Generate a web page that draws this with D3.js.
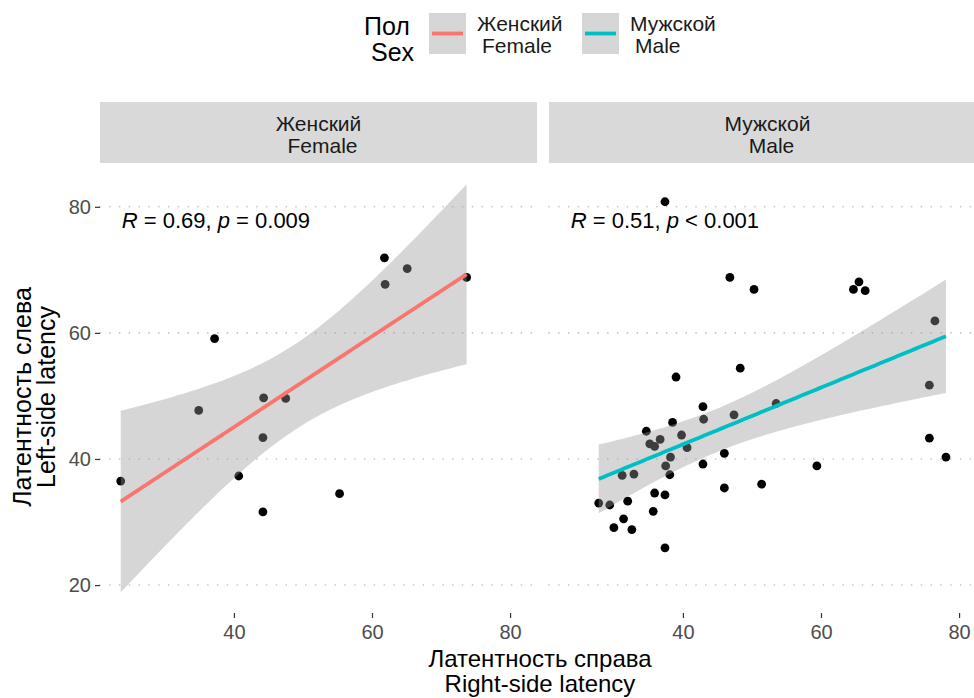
<!DOCTYPE html>
<html>
<head>
<meta charset="utf-8">
<script src="https://cdn.jsdelivr.net/npm/d3@7"></script>
<style>
  body { margin: 0; background: #fff; }
  svg { font-family: "Liberation Sans", Arial, Helvetica, sans-serif; display: block; }
</style>
</head>
<body>
<svg id="chart" width="974" height="698"></svg>
<script>
// values: right-side latency (x) vs left-side latency (y)
const sexRu = ["Женский", "Мужской"];
const sexEn = ["Female", "Male"];
const sexColors = ["#F8766D", "#00BFC4"];

const femaleX = [23.6, 34.9, 37.2, 44.3, 47.5, 44.2, 40.7, 44.2, 55.3, 61.8, 61.9, 65.1, 73.7];
const femaleY = [36.5, 47.7, 59.1, 49.7, 49.6, 43.4, 37.3, 31.6, 34.5, 71.9, 67.7, 70.2, 68.8];

const maleX = [37.4, 46.8, 50.3, 64.7, 65.5, 66.4, 76.5, 75.7, 75.7, 78.1, 59.4, 53.5, 48.3, 39.0,
  42.9, 43.0, 47.4, 38.5, 34.7, 39.8, 36.7, 35.2, 35.9, 40.6, 46.0, 38.2, 37.5, 42.9, 38.1, 32.9,
  31.2, 51.4, 46.0, 35.9, 37.4, 32.0, 27.8, 29.4, 35.7, 31.4, 30.0, 32.6, 37.4];
const maleY = [80.8, 68.8, 66.9, 66.9, 68.1, 66.7, 61.9, 51.7, 43.3, 40.3, 38.9, 48.8, 54.4, 53.0,
  48.3, 46.3, 47.0, 45.8, 44.4, 43.8, 43.1, 42.4, 42.0, 41.8, 40.9, 40.3, 38.9, 39.2, 37.5, 37.6,
  37.4, 36.0, 35.4, 34.6, 34.3, 33.3, 33.0, 32.7, 31.7, 30.5, 29.1, 28.8, 25.9];

const corR = ["0.69", "0.51"];
const corP = ["= 0.009", "< 0.001"];

const xTicks = [40, 60, 80];
const yTicks = [20, 40, 60, 80];

const panels = [
  { xs: femaleX, ys: femaleY },
  { xs: maleX, ys: maleY }
];

const svg = d3.select("#chart");

const panelW = 437;
const panelX = [100, 549];
const x = d3.scaleLinear().domain([20.6, 83.9]).range([0, panelW]);
const y = d3.scaleLinear().domain([15.57, 86.63]).range([613, 165]);

// t quantile (97.5%) via Cornish-Fisher expansion
function tq(df) {
  const z = 1.959964;
  return z + (z ** 3 + z) / (4 * df)
    + (5 * z ** 5 + 16 * z ** 3 + 3 * z) / (96 * df * df)
    + (3 * z ** 7 + 19 * z ** 5 + 17 * z ** 3 - 15 * z) / (384 * df ** 3);
}

// linear fit with 95% confidence band
function lmBand(xs, ys) {
  const n = xs.length;
  const mx = d3.mean(xs), my = d3.mean(ys);
  const sxx = d3.sum(xs, (v) => (v - mx) ** 2);
  const sxy = d3.sum(xs, (v, i) => (v - mx) * (ys[i] - my));
  const b = sxy / sxx, a = my - b * mx;
  const s2 = d3.sum(xs, (v, i) => (ys[i] - a - b * v) ** 2) / (n - 2);
  const t = tq(n - 2);
  const [x0, x1] = d3.extent(xs);
  return d3.range(80).map((i) => {
    const xv = x0 + (x1 - x0) * i / 79;
    const fit = a + b * xv;
    const se = Math.sqrt(s2 * (1 / n + (xv - mx) ** 2 / sxx));
    return { x: xv, fit, lo: fit - t * se, hi: fit + t * se };
  });
}

const xMinAll = d3.min([...femaleX, ...maleX]);

panels.forEach((p, k) => {
  const g = svg.append("g").attr("transform", `translate(${panelX[k]},0)`);

  // strip
  g.append("rect")
    .attr("x", 0).attr("y", 102)
    .attr("width", panelW).attr("height", 61)
    .attr("fill", "#d9d9d9");
  g.append("text")
    .attr("x", panelW / 2).attr("y", 131)
    .attr("text-anchor", "middle")
    .attr("font-size", 21).attr("fill", "#1a1a1a")
    .text(sexRu[k]);
  g.append("text")
    .attr("x", panelW / 2 + 4).attr("y", 153)
    .attr("text-anchor", "middle")
    .attr("font-size", 21).attr("fill", "#1a1a1a")
    .text(sexEn[k]);

  // dotted horizontal grid
  g.append("g")
    .selectAll("line")
    .data(yTicks)
    .join("line")
    .attr("x1", 0).attr("x2", panelW)
    .attr("y1", (d) => y(d)).attr("y2", (d) => y(d))
    .attr("stroke", "#bdbdbd")
    .attr("stroke-width", 1.6)
    .attr("stroke-linecap", "round")
    .attr("stroke-dasharray", "0.1 9.7");

  // points
  g.append("g")
    .selectAll("circle")
    .data(p.xs.map((v, i) => [v, p.ys[i]]))
    .join("circle")
    .attr("cx", (d) => x(d[0]))
    .attr("cy", (d) => y(d[1]))
    .attr("r", 4.4)
    .attr("fill", "#000");

  // smooth: ribbon + line
  const band = lmBand(p.xs, p.ys);
  g.append("path")
    .datum(band)
    .attr("fill", "#999999")
    .attr("fill-opacity", 0.4)
    .attr("d", d3.area().x((d) => x(d.x)).y0((d) => y(d.lo)).y1((d) => y(d.hi)));
  g.append("path")
    .datum(band)
    .attr("fill", "none")
    .attr("stroke", sexColors[k])
    .attr("stroke-width", 3.8)
    .attr("d", d3.line().x((d) => x(d.x)).y((d) => y(d.fit)));

  // correlation label
  const lab = g.append("text")
    .attr("x", x(xMinAll) + 1).attr("y", 228)
    .attr("font-size", 22).attr("fill", "#000")
    .attr("xml:space", "preserve");
  lab.append("tspan").attr("font-style", "italic").text("R");
  lab.append("tspan").text(` = ${corR[k]}, `);
  lab.append("tspan").attr("font-style", "italic").text("p");
  lab.append("tspan").text(` ${corP[k]}`);

  // x axis
  const xa = g.append("g")
    .attr("transform", "translate(0,613)")
    .call(d3.axisBottom(x).tickValues(xTicks).tickSize(5).tickPadding(7));
  xa.select(".domain").remove();
  xa.selectAll(".tick line").attr("stroke", "#333").attr("stroke-width", 1.2);
  xa.selectAll(".tick text")
    .attr("fill", "#4d4d4d").attr("font-size", 20)
    .attr("font-family", "Liberation Sans, Arial, sans-serif");
});

// y axis (left panel only)
const ya = svg.append("g")
  .attr("transform", "translate(100,0)")
  .call(d3.axisLeft(y).tickValues(yTicks).tickSize(5).tickPadding(4));
ya.select(".domain").remove();
ya.selectAll(".tick line").attr("stroke", "#333").attr("stroke-width", 1.2);
ya.selectAll(".tick text")
  .attr("fill", "#4d4d4d").attr("font-size", 20)
  .attr("font-family", "Liberation Sans, Arial, sans-serif");

// axis titles
svg.append("text")
  .attr("x", 540).attr("y", 667)
  .attr("text-anchor", "middle").attr("font-size", 24)
  .text("Латентность справа");
svg.append("text")
  .attr("x", 540).attr("y", 692)
  .attr("text-anchor", "middle").attr("font-size", 24)
  .text("Right-side latency");

const yTitle = svg.append("g").attr("transform", "translate(0,397) rotate(-90)");
yTitle.append("text")
  .attr("x", 0).attr("y", 31)
  .attr("text-anchor", "middle").attr("font-size", 25)
  .text("Латентность слева");
yTitle.append("text")
  .attr("x", 0).attr("y", 55)
  .attr("text-anchor", "middle").attr("font-size", 25)
  .text("Left-side latency");

// legend
const legend = svg.append("g");
legend.append("text").attr("x", 364).attr("y", 35).attr("font-size", 25).text("Пол");
legend.append("text").attr("x", 371).attr("y", 61).attr("font-size", 25).text("Sex");

const keyX = [429, 582];
sexRu.forEach((s, k) => {
  legend.append("rect")
    .attr("x", keyX[k]).attr("y", 13)
    .attr("width", 37).attr("height", 41)
    .attr("fill", "#d6d6d6");
  legend.append("line")
    .attr("x1", keyX[k] + 3).attr("x2", keyX[k] + 34)
    .attr("y1", 33.5).attr("y2", 33.5)
    .attr("stroke", sexColors[k]).attr("stroke-width", 3.8);
  legend.append("text")
    .attr("x", keyX[k] + 48).attr("y", 31)
    .attr("font-size", 21).attr("fill", "#1a1a1a")
    .text(s);
  legend.append("text")
    .attr("x", keyX[k] + 53).attr("y", 53)
    .attr("font-size", 21).attr("fill", "#1a1a1a")
    .text(sexEn[k]);
});
</script>
</body>
</html>
